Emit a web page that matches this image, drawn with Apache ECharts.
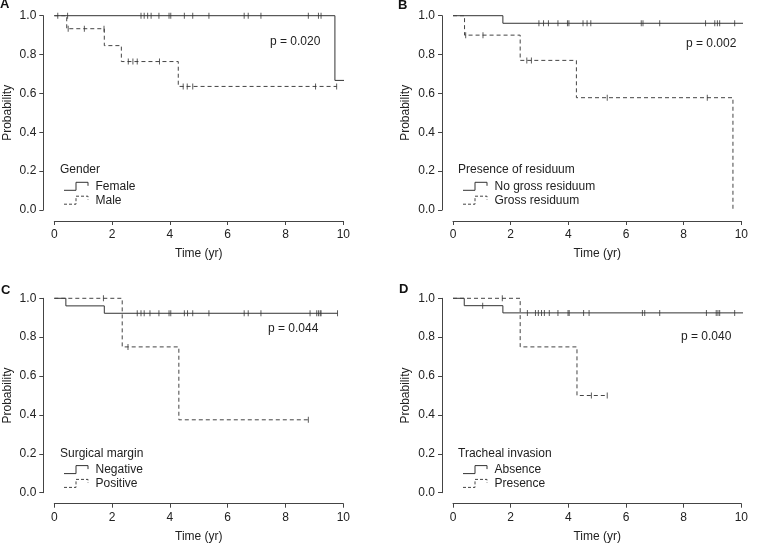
<!DOCTYPE html>
<html>
<head>
<meta charset="utf-8">
<script src="https://cdn.jsdelivr.net/npm/echarts@6/dist/echarts.min.js"></script>
<style>html,body{margin:0;padding:0;background:#fff;}#c{width:757px;height:544px;}</style>
</head>
<body>
<div id="c"></div>
<script>
// ---------- Data ----------
const xTicks = [0, 2, 4, 6, 8, 10];
const yTicks = [0.0, 0.2, 0.4, 0.6, 0.8, 1.0];

// Panel A: Gender
const femaleTimes = [0, 9.71];
const femaleSurv = [1.0, 0.667];
const femaleEnd = 10.52;
const femaleCensor = [0.12, 0.46, 3.0, 3.11, 3.23, 3.35, 3.62, 3.97, 4.03, 4.50, 4.79, 5.35, 6.57, 6.71, 7.15, 8.79, 9.14, 9.23];
const maleTimes = [0, 0.43, 1.73, 2.32, 4.29];
const maleSurv = [1.0, 0.933, 0.846, 0.764, 0.636];
const maleEnd = 9.77;
const maleCensor = [0.48, 1.04, 1.72, 2.56, 2.72, 2.87, 3.64, 4.46, 4.60, 4.79, 9.04, 9.77];

// Panel B: Presence of residuum
const noGrossTimes = [0, 1.73];
const noGrossSurv = [1.0, 0.961];
const noGrossEnd = 10.52;
const noGrossCensor = [2.98, 3.14, 3.31, 3.64, 3.97, 4.02, 4.51, 4.65, 4.78, 6.53, 6.59, 7.17, 8.76, 9.08, 9.17, 9.25, 9.77];
const grossTimes = [0, 0.40, 2.33, 4.28, 9.71];
const grossSurv = [1.0, 0.9, 0.77, 0.578, 0.0];
const grossEnd = 9.71;
const grossCensor = [0.44, 1.04, 2.56, 2.72, 5.35, 8.82];

// Panel C: Surgical margin
const negTimes = [0, 0.40, 1.73];
const negSurv = [1.0, 0.961, 0.923];
const negEnd = 9.80;
const negCensor = [2.87, 3.0, 3.11, 3.31, 3.62, 3.97, 4.03, 4.50, 4.61, 4.79, 5.35, 6.57, 6.71, 7.15, 8.85, 9.08, 9.14, 9.20, 9.23, 9.80];
const posTimes = [0, 2.35, 4.31];
const posSurv = [1.0, 0.75, 0.375];
const posEnd = 8.79;
const posCensor = [1.70, 2.55, 8.79];

// Panel D: Tracheal invasion
const absTimes = [0, 0.39, 1.73];
const absSurv = [1.0, 0.962, 0.925];
const absEnd = 10.52;
const absCensor = [1.03, 2.58, 2.86, 2.96, 3.07, 3.17, 3.34, 3.64, 3.99, 4.03, 4.53, 4.72, 6.57, 6.65, 7.17, 8.79, 9.13, 9.19, 9.25, 9.77];
const presTimes = [0, 2.33, 4.30];
const presSurv = [1.0, 0.75, 0.5];
const presEnd = 5.35;
const presCensor = [1.71, 4.80, 5.35];

// Texts
const panelLetters = ['A', 'B', 'C', 'D'];
const pValues = ['p = 0.020', 'p = 0.002', 'p = 0.044', 'p = 0.040'];
const legendTitles = ['Gender', 'Presence of residuum', 'Surgical margin', 'Tracheal invasion'];
const groupNames = [['Female', 'Male'], ['No gross residuum', 'Gross residuum'], ['Negative', 'Positive'], ['Absence', 'Presence']];
const xName = 'Time (yr)';
const yName = 'Probability';

// ---------- Build ----------
const FONT = "'Liberation Sans', Arial, sans-serif";
const TXT = '#222';
const AX = '#444';
const SOLID = '#333';
const DASH = '#444';

function kmLine(times, surv, end) {
  const pts = times.map((t, i) => [t, surv[i]]);
  if (end > times[times.length - 1]) pts.push([end, surv[surv.length - 1]]);
  return pts;
}
function kmCensor(times, surv, cens) {
  return cens.map(c => {
    let s = surv[0];
    for (let i = 0; i < times.length; i++) if (times[i] <= c) s = surv[i];
    return [c, s];
  });
}

const panels = [
  [[femaleTimes, femaleSurv, femaleEnd, femaleCensor], [maleTimes, maleSurv, maleEnd, maleCensor]],
  [[noGrossTimes, noGrossSurv, noGrossEnd, noGrossCensor], [grossTimes, grossSurv, grossEnd, grossCensor]],
  [[negTimes, negSurv, negEnd, negCensor], [posTimes, posSurv, posEnd, posCensor]],
  [[absTimes, absSurv, absEnd, absCensor], [presTimes, presSurv, presEnd, presCensor]]
];

const gridPos = [
  {left: 54.3, width: 289, top: 15.7, height: 194.3},
  {left: 453, width: 288.3, top: 15.7, height: 194.3},
  {left: 54.3, width: 289, top: 298.3, height: 194.4},
  {left: 453, width: 288.3, top: 298.3, height: 194.4}
];

const grid = [], xAxis = [], yAxis = [], series = [], title = [], graphic = [];

// text anchors (x = left edge, y = vertical centre)
const letterPos = [[0, 4.5], [398, 5.5], [1, 290.5], [399, 289]];
const pPos = [[270, 42], [686, 44], [268, 329], [681, 336.7]];
const legTitlePos = [[60, 170], [458, 170], [60, 453.3], [458, 453.3]];
const legIconLeft = [64, 463, 64, 463];
const legRowY = [[186.3, 200.2], [186.3, 200.2], [469.6, 483.4], [469.6, 483.4]];

function addText(txt, pos, size, weight) {
  title.push({
    text: txt, left: pos[0], top: pos[1] - size / 2, padding: 0, itemGap: 0,
    textStyle: {fontSize: size, fontWeight: weight, color: weight === 'bold' ? '#111' : TXT, fontFamily: FONT, lineHeight: size}
  });
}

panels.forEach((curves, gi) => {
  grid.push(Object.assign({containLabel: false}, gridPos[gi]));
  xAxis.push({
    gridIndex: gi, type: 'value', min: 0, max: 10, interval: 2, offset: 11,
    axisLine: {show: true, onZero: false, lineStyle: {color: AX, width: 1}},
    axisTick: {show: true, length: 4, lineStyle: {color: AX, width: 1}},
    axisLabel: {margin: 8, fontSize: 12, color: TXT, fontFamily: FONT},
    splitLine: {show: false},
    name: xName, nameLocation: 'middle', nameGap: 27,
    nameTextStyle: {fontSize: 12, color: TXT, fontFamily: FONT}
  });
  yAxis.push({
    gridIndex: gi, type: 'value', min: 0, max: 1, interval: 0.2, offset: 11,
    axisLine: {show: true, onZero: false, lineStyle: {color: AX, width: 1}},
    axisTick: {show: true, length: 4, lineStyle: {color: AX, width: 1}},
    axisLabel: {margin: 7, fontSize: 12, color: TXT, fontFamily: FONT, formatter: v => v.toFixed(1)},
    splitLine: {show: false},
    name: yName, nameLocation: 'middle', nameGap: 30,
    nameTextStyle: {fontSize: 12, color: TXT, fontFamily: FONT}
  });
  curves.forEach((c, ci) => {
    const name = groupNames[gi][ci];
    const dashed = ci === 1;
    series.push({
      name: name, type: 'line', xAxisIndex: gi, yAxisIndex: gi, step: 'end',
      data: kmLine(c[0], c[1], c[2]), symbol: 'none', showSymbol: false, clip: false,
      lineStyle: {color: dashed ? DASH : SOLID, width: 1, type: dashed ? [4, 3] : 'solid'},
      z: dashed ? 3 : 2, animation: false, silent: true
    });
    series.push({
      name: name + ' censored', type: 'scatter', xAxisIndex: gi, yAxisIndex: gi,
      data: kmCensor(c[0], c[1], c[3]), symbol: 'rect', symbolSize: [1, 6], clip: false,
      itemStyle: {color: SOLID}, animation: false, silent: true, z: 4
    });
    // legend key: small step glyph + label
    const x0 = legIconLeft[gi], yc = legRowY[gi][ci];
    graphic.push({
      type: 'polyline', silent: true,
      shape: {points: [[x0, yc + 4], [x0 + 12, yc + 4], [x0 + 12, yc - 4], [x0 + 24, yc - 4], [x0 + 24, yc - 0.5]]},
      style: {stroke: dashed ? DASH : SOLID, lineWidth: 1, fill: null, lineDash: dashed ? [3, 2] : null}
    });
    addText(name, [x0 + 31.5, yc], 12, 'normal');
  });
  addText(panelLetters[gi], letterPos[gi], 13, 'bold');
  addText(pValues[gi], pPos[gi], 12, 'normal');
  addText(legendTitles[gi], legTitlePos[gi], 12, 'normal');
});

const chart = echarts.init(document.getElementById('c'), null, {renderer: 'canvas'});
chart.setOption({
  animation: false,
  backgroundColor: '#fff',
  title, grid, xAxis, yAxis, series, graphic
});
</script>
</body>
</html>
